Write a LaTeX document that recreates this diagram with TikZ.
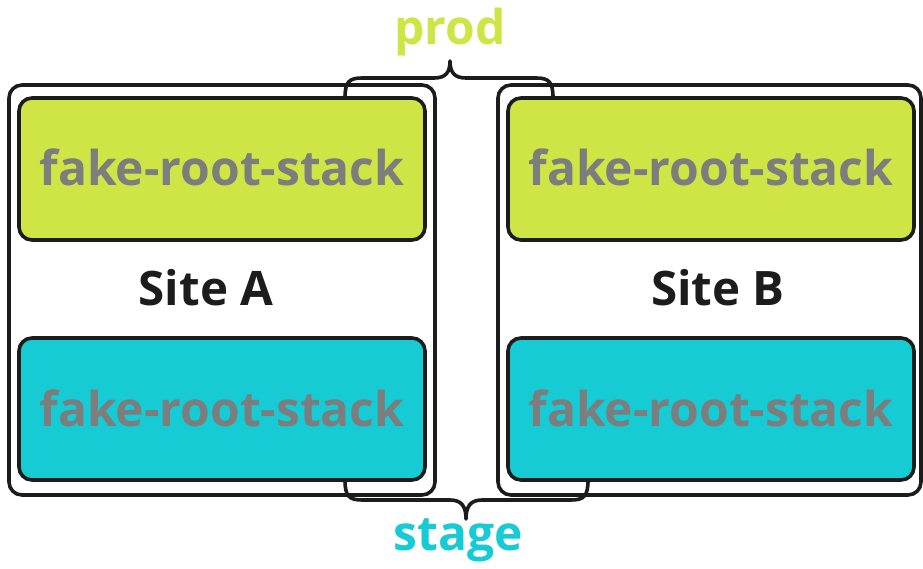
\documentclass[tikz,border=0pt]{standalone}
\usepackage{fontspec}
\setmainfont{Open Sans}
\definecolor{prodgreen}{HTML}{CFE545}
\definecolor{stageteal}{HTML}{16CBD4}
\definecolor{stackgray}{HTML}{7D7D7D}
\definecolor{ink}{HTML}{1C1C1C}
\tikzset{
  site/.style={draw=ink, line width=3.6pt, rounded corners=13pt, fill=white},
  stackbox/.style={draw=ink, line width=3.6pt, rounded corners=13pt,
    minimum width=406pt, minimum height=142pt, inner sep=0pt},
  stacklabel/.style={anchor=base, font=\fontsize{48}{52}\selectfont\bfseries, text=stackgray},
  sitelabel/.style={anchor=base, font=\fontsize{47.5}{52}\selectfont\bfseries, text=ink},
  envlabel/.style={anchor=base, font=\fontsize{48}{52}\selectfont\bfseries},
  bracket/.style={draw=ink, line width=3.6pt, line cap=round, line join=round}
}
\begin{document}
\begin{tikzpicture}[x=1pt, y=-1pt]
  \useasboundingbox (0,0) rectangle (923,569);

  % site frames
  \draw[site] (9,85) rectangle (435,495);
  \draw[site] (498,85) rectangle (921,495);

  % stacks
  \node[stackbox, fill=prodgreen] (a1) at (222,169) {};
  \node[stackbox, fill=stageteal] (a2) at (222,409) {};
  \node[stackbox, fill=prodgreen] (b1) at (711,169) {};
  \node[stackbox, fill=stageteal] (b2) at (711,409) {};
  \node[stacklabel] (a1t) at (222,186) {fake-root-stack};
  \node[stacklabel] (a2t) at (222,426) {fake-root-stack};
  \node[stacklabel] (b1t) at (711,186) {fake-root-stack};
  \node[stacklabel] (b2t) at (711,426) {fake-root-stack};

  \node[sitelabel] (sa) at (206,305) {Site A};
  \node[sitelabel] (sb) at (718,305) {Site B};

  % prod brace
  \draw[bracket] (345,98) .. controls (345,82) and (349,78) .. (362,78)
    -- (434,78) .. controls (446,78) and (450,72) .. (450,61)
    .. controls (450,72) and (454,78) .. (466,78)
    -- (536,78) .. controls (549,78) and (553,82) .. (553,98);
  \node[envlabel, text=prodgreen] (prod) at (450,45) {prod};

  % stage brace
  \draw[bracket] (345,480) .. controls (345,496) and (349,500) .. (362,500)
    -- (450,500) .. controls (462,500) and (466,507) .. (466,519)
    .. controls (466,507) and (470,500) .. (482,500)
    -- (571,500) .. controls (584,500) and (588,496) .. (588,480);
  \node[envlabel, text=stageteal] (stage) at (458,550) {stage};
\end{tikzpicture}
\end{document}
